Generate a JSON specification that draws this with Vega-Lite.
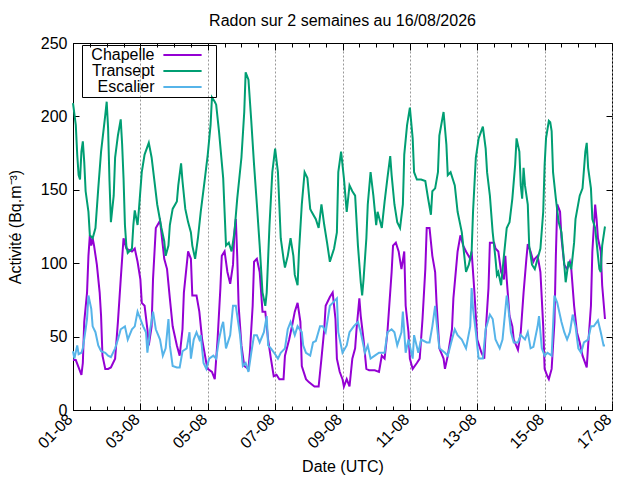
{
  "$schema": "https://vega.github.io/schema/vega-lite/v6.json",
  "width": 539,
  "height": 367,
  "autosize": "none",
  "padding": {"left": 73, "top": 43, "right": 28, "bottom": 70},
  "title": {"text": "Radon sur 2 semaines au 16/08/2026", "font": "Liberation Sans", "fontSize": 16, "fontWeight": "normal", "color": "black", "offset": 6},
  "config": {
    "view": {"stroke": "black", "strokeWidth": 1},
    "axis": {
      "labelFont": "Liberation Sans", "titleFont": "Liberation Sans",
      "labelFontSize": 16, "titleFontSize": 16, "titleFontWeight": "normal",
      "labelColor": "black", "titleColor": "black",
      "domainColor": "black", "tickColor": "black", "grid": false
    },
    "legend": {
      "title": null, "strokeColor": "black", "padding": 2,
      "symbolType": "M-2.73,0H2.73M3.8,0", "symbolSize": 196, "symbolStrokeWidth": 2,
      "symbolOffset": 90.5, "labelOffset": -36, "labelAlign": "right",
      "labelFont": "Liberation Sans", "labelFontSize": 16, "labelColor": "black", "rowPadding": 0
    }
  },
  "data": {"values": [
    {"s":"Chapelle","t":"2026-08-01T00:00","v":34},{"s":"Chapelle","t":"2026-08-01T02:00","v":34},{"s":"Chapelle","t":"2026-08-01T04:00","v":29},{"s":"Chapelle","t":"2026-08-01T06:00","v":24},{"s":"Chapelle","t":"2026-08-01T07:00","v":32},{"s":"Chapelle","t":"2026-08-01T08:00","v":60},{"s":"Chapelle","t":"2026-08-01T10:00","v":80},{"s":"Chapelle","t":"2026-08-01T11:00","v":105},{"s":"Chapelle","t":"2026-08-01T12:00","v":119},{"s":"Chapelle","t":"2026-08-01T13:00","v":112},{"s":"Chapelle","t":"2026-08-01T14:00","v":117},{"s":"Chapelle","t":"2026-08-01T15:00","v":112},{"s":"Chapelle","t":"2026-08-01T17:00","v":99},{"s":"Chapelle","t":"2026-08-01T19:00","v":80},{"s":"Chapelle","t":"2026-08-01T20:00","v":64},{"s":"Chapelle","t":"2026-08-01T21:00","v":37},{"s":"Chapelle","t":"2026-08-01T23:00","v":28},
    {"s":"Chapelle","t":"2026-08-02T01:00","v":28},{"s":"Chapelle","t":"2026-08-02T03:00","v":29},{"s":"Chapelle","t":"2026-08-02T06:00","v":35},{"s":"Chapelle","t":"2026-08-02T08:00","v":60},{"s":"Chapelle","t":"2026-08-02T10:00","v":89},{"s":"Chapelle","t":"2026-08-02T12:00","v":117},{"s":"Chapelle","t":"2026-08-02T14:00","v":110},{"s":"Chapelle","t":"2026-08-02T18:00","v":108},{"s":"Chapelle","t":"2026-08-02T20:00","v":110},{"s":"Chapelle","t":"2026-08-02T22:00","v":101},
    {"s":"Chapelle","t":"2026-08-03T00:00","v":89},{"s":"Chapelle","t":"2026-08-03T01:00","v":73},{"s":"Chapelle","t":"2026-08-03T03:00","v":71},{"s":"Chapelle","t":"2026-08-03T05:00","v":55},{"s":"Chapelle","t":"2026-08-03T06:00","v":44},{"s":"Chapelle","t":"2026-08-03T08:00","v":57},{"s":"Chapelle","t":"2026-08-03T09:00","v":89},{"s":"Chapelle","t":"2026-08-03T11:00","v":124},{"s":"Chapelle","t":"2026-08-03T14:00","v":129},{"s":"Chapelle","t":"2026-08-03T16:00","v":112},{"s":"Chapelle","t":"2026-08-03T17:00","v":103},{"s":"Chapelle","t":"2026-08-03T19:00","v":96},{"s":"Chapelle","t":"2026-08-03T21:00","v":76},{"s":"Chapelle","t":"2026-08-03T23:00","v":57},
    {"s":"Chapelle","t":"2026-08-04T02:00","v":44},{"s":"Chapelle","t":"2026-08-04T04:00","v":37},{"s":"Chapelle","t":"2026-08-04T06:00","v":55},{"s":"Chapelle","t":"2026-08-04T07:00","v":80},{"s":"Chapelle","t":"2026-08-04T10:00","v":108},{"s":"Chapelle","t":"2026-08-04T12:00","v":103},{"s":"Chapelle","t":"2026-08-04T13:00","v":78},{"s":"Chapelle","t":"2026-08-04T16:00","v":78},{"s":"Chapelle","t":"2026-08-04T18:00","v":67},{"s":"Chapelle","t":"2026-08-04T20:00","v":48},{"s":"Chapelle","t":"2026-08-04T23:00","v":32},
    {"s":"Chapelle","t":"2026-08-05T00:00","v":28},{"s":"Chapelle","t":"2026-08-05T03:00","v":26},{"s":"Chapelle","t":"2026-08-05T05:00","v":21},{"s":"Chapelle","t":"2026-08-05T07:00","v":48},{"s":"Chapelle","t":"2026-08-05T09:00","v":83},{"s":"Chapelle","t":"2026-08-05T10:00","v":105},{"s":"Chapelle","t":"2026-08-05T12:00","v":108},{"s":"Chapelle","t":"2026-08-05T14:00","v":94},{"s":"Chapelle","t":"2026-08-05T16:00","v":86},{"s":"Chapelle","t":"2026-08-05T18:00","v":99},{"s":"Chapelle","t":"2026-08-05T19:00","v":121},{"s":"Chapelle","t":"2026-08-05T20:00","v":130},{"s":"Chapelle","t":"2026-08-05T21:00","v":105},{"s":"Chapelle","t":"2026-08-05T22:00","v":71},
    {"s":"Chapelle","t":"2026-08-06T00:00","v":44},{"s":"Chapelle","t":"2026-08-06T02:00","v":30},{"s":"Chapelle","t":"2026-08-06T05:00","v":28},{"s":"Chapelle","t":"2026-08-06T06:00","v":39},{"s":"Chapelle","t":"2026-08-06T08:00","v":71},{"s":"Chapelle","t":"2026-08-06T09:00","v":101},{"s":"Chapelle","t":"2026-08-06T11:00","v":103},{"s":"Chapelle","t":"2026-08-06T13:00","v":94},{"s":"Chapelle","t":"2026-08-06T15:00","v":67},{"s":"Chapelle","t":"2026-08-06T17:00","v":67},{"s":"Chapelle","t":"2026-08-06T19:00","v":48},{"s":"Chapelle","t":"2026-08-06T21:00","v":35},{"s":"Chapelle","t":"2026-08-06T23:00","v":23},
    {"s":"Chapelle","t":"2026-08-07T01:00","v":24},{"s":"Chapelle","t":"2026-08-07T03:00","v":21},{"s":"Chapelle","t":"2026-08-07T06:00","v":21},{"s":"Chapelle","t":"2026-08-07T07:00","v":37},{"s":"Chapelle","t":"2026-08-07T10:00","v":48},{"s":"Chapelle","t":"2026-08-07T12:00","v":57},{"s":"Chapelle","t":"2026-08-07T14:00","v":67},{"s":"Chapelle","t":"2026-08-07T16:00","v":73},{"s":"Chapelle","t":"2026-08-07T18:00","v":60},{"s":"Chapelle","t":"2026-08-07T19:00","v":30},{"s":"Chapelle","t":"2026-08-07T22:00","v":21},
    {"s":"Chapelle","t":"2026-08-08T00:00","v":19},{"s":"Chapelle","t":"2026-08-08T04:00","v":16},{"s":"Chapelle","t":"2026-08-08T07:00","v":16},{"s":"Chapelle","t":"2026-08-08T09:00","v":35},{"s":"Chapelle","t":"2026-08-08T11:00","v":55},{"s":"Chapelle","t":"2026-08-08T12:00","v":71},{"s":"Chapelle","t":"2026-08-08T15:00","v":77},{"s":"Chapelle","t":"2026-08-08T17:00","v":80},{"s":"Chapelle","t":"2026-08-08T19:00","v":62},{"s":"Chapelle","t":"2026-08-08T20:00","v":35},{"s":"Chapelle","t":"2026-08-08T22:00","v":26},
    {"s":"Chapelle","t":"2026-08-09T00:00","v":21},{"s":"Chapelle","t":"2026-08-09T01:00","v":16},{"s":"Chapelle","t":"2026-08-09T03:00","v":21},{"s":"Chapelle","t":"2026-08-09T05:00","v":16},{"s":"Chapelle","t":"2026-08-09T07:00","v":35},{"s":"Chapelle","t":"2026-08-09T09:00","v":42},{"s":"Chapelle","t":"2026-08-09T10:00","v":55},{"s":"Chapelle","t":"2026-08-09T12:00","v":76},{"s":"Chapelle","t":"2026-08-09T13:00","v":64},{"s":"Chapelle","t":"2026-08-09T15:00","v":48},{"s":"Chapelle","t":"2026-08-09T17:00","v":28},{"s":"Chapelle","t":"2026-08-09T19:00","v":27},{"s":"Chapelle","t":"2026-08-09T23:00","v":27},
    {"s":"Chapelle","t":"2026-08-10T02:00","v":26},{"s":"Chapelle","t":"2026-08-10T04:00","v":37},{"s":"Chapelle","t":"2026-08-10T06:00","v":35},{"s":"Chapelle","t":"2026-08-10T08:00","v":53},{"s":"Chapelle","t":"2026-08-10T11:00","v":94},{"s":"Chapelle","t":"2026-08-10T12:00","v":112},{"s":"Chapelle","t":"2026-08-10T14:00","v":114},{"s":"Chapelle","t":"2026-08-10T16:00","v":108},{"s":"Chapelle","t":"2026-08-10T18:00","v":96},{"s":"Chapelle","t":"2026-08-10T20:00","v":108},{"s":"Chapelle","t":"2026-08-10T21:00","v":71},{"s":"Chapelle","t":"2026-08-10T23:00","v":53},
    {"s":"Chapelle","t":"2026-08-11T00:00","v":35},{"s":"Chapelle","t":"2026-08-11T02:00","v":28},{"s":"Chapelle","t":"2026-08-11T05:00","v":32},{"s":"Chapelle","t":"2026-08-11T07:00","v":35},{"s":"Chapelle","t":"2026-08-11T09:00","v":62},{"s":"Chapelle","t":"2026-08-11T11:00","v":96},{"s":"Chapelle","t":"2026-08-11T12:00","v":124},{"s":"Chapelle","t":"2026-08-11T14:00","v":124},{"s":"Chapelle","t":"2026-08-11T16:00","v":105},{"s":"Chapelle","t":"2026-08-11T18:00","v":94},{"s":"Chapelle","t":"2026-08-11T19:00","v":73},{"s":"Chapelle","t":"2026-08-11T21:00","v":42},
    {"s":"Chapelle","t":"2026-08-12T00:00","v":35},{"s":"Chapelle","t":"2026-08-12T01:00","v":28},{"s":"Chapelle","t":"2026-08-12T03:00","v":37},{"s":"Chapelle","t":"2026-08-12T06:00","v":55},{"s":"Chapelle","t":"2026-08-12T07:00","v":76},{"s":"Chapelle","t":"2026-08-12T10:00","v":108},{"s":"Chapelle","t":"2026-08-12T12:00","v":119},{"s":"Chapelle","t":"2026-08-12T14:00","v":112},{"s":"Chapelle","t":"2026-08-12T16:00","v":108},{"s":"Chapelle","t":"2026-08-12T19:00","v":103},{"s":"Chapelle","t":"2026-08-12T20:00","v":108},{"s":"Chapelle","t":"2026-08-12T22:00","v":80},
    {"s":"Chapelle","t":"2026-08-13T00:00","v":48},{"s":"Chapelle","t":"2026-08-13T03:00","v":39},{"s":"Chapelle","t":"2026-08-13T05:00","v":35},{"s":"Chapelle","t":"2026-08-13T06:00","v":53},{"s":"Chapelle","t":"2026-08-13T08:00","v":83},{"s":"Chapelle","t":"2026-08-13T09:00","v":114},{"s":"Chapelle","t":"2026-08-13T12:00","v":114},{"s":"Chapelle","t":"2026-08-13T13:00","v":110},{"s":"Chapelle","t":"2026-08-13T15:00","v":108},{"s":"Chapelle","t":"2026-08-13T17:00","v":94},{"s":"Chapelle","t":"2026-08-13T19:00","v":89},{"s":"Chapelle","t":"2026-08-13T20:00","v":105},{"s":"Chapelle","t":"2026-08-13T21:00","v":89},{"s":"Chapelle","t":"2026-08-13T23:00","v":64},
    {"s":"Chapelle","t":"2026-08-14T01:00","v":57},{"s":"Chapelle","t":"2026-08-14T02:00","v":48},{"s":"Chapelle","t":"2026-08-14T05:00","v":41},{"s":"Chapelle","t":"2026-08-14T07:00","v":53},{"s":"Chapelle","t":"2026-08-14T09:00","v":80},{"s":"Chapelle","t":"2026-08-14T11:00","v":103},{"s":"Chapelle","t":"2026-08-14T12:00","v":113},{"s":"Chapelle","t":"2026-08-14T14:00","v":108},{"s":"Chapelle","t":"2026-08-14T16:00","v":101},{"s":"Chapelle","t":"2026-08-14T17:00","v":103},{"s":"Chapelle","t":"2026-08-14T19:00","v":105},{"s":"Chapelle","t":"2026-08-14T21:00","v":94},{"s":"Chapelle","t":"2026-08-14T23:00","v":57},
    {"s":"Chapelle","t":"2026-08-15T00:00","v":28},{"s":"Chapelle","t":"2026-08-15T02:00","v":23},{"s":"Chapelle","t":"2026-08-15T03:00","v":21},{"s":"Chapelle","t":"2026-08-15T05:00","v":28},{"s":"Chapelle","t":"2026-08-15T07:00","v":60},{"s":"Chapelle","t":"2026-08-15T08:00","v":105},{"s":"Chapelle","t":"2026-08-15T09:00","v":140},{"s":"Chapelle","t":"2026-08-15T11:00","v":135},{"s":"Chapelle","t":"2026-08-15T12:00","v":117},{"s":"Chapelle","t":"2026-08-15T14:00","v":99},{"s":"Chapelle","t":"2026-08-15T16:00","v":96},{"s":"Chapelle","t":"2026-08-15T18:00","v":101},{"s":"Chapelle","t":"2026-08-15T19:00","v":96},{"s":"Chapelle","t":"2026-08-15T21:00","v":71},{"s":"Chapelle","t":"2026-08-15T23:00","v":53},
    {"s":"Chapelle","t":"2026-08-16T01:00","v":46},{"s":"Chapelle","t":"2026-08-16T03:00","v":37},{"s":"Chapelle","t":"2026-08-16T06:00","v":29},{"s":"Chapelle","t":"2026-08-16T07:00","v":44},{"s":"Chapelle","t":"2026-08-16T09:00","v":71},{"s":"Chapelle","t":"2026-08-16T10:00","v":108},{"s":"Chapelle","t":"2026-08-16T12:00","v":140},{"s":"Chapelle","t":"2026-08-16T13:00","v":130},{"s":"Chapelle","t":"2026-08-16T14:00","v":117},{"s":"Chapelle","t":"2026-08-16T16:00","v":108},{"s":"Chapelle","t":"2026-08-16T17:00","v":85},{"s":"Chapelle","t":"2026-08-16T19:00","v":62},

    {"s":"Transept","t":"2026-08-01T00:00","v":209},{"s":"Transept","t":"2026-08-01T02:00","v":194},{"s":"Transept","t":"2026-08-01T03:00","v":174},{"s":"Transept","t":"2026-08-01T04:00","v":160},{"s":"Transept","t":"2026-08-01T05:00","v":157},{"s":"Transept","t":"2026-08-01T06:00","v":176},{"s":"Transept","t":"2026-08-01T07:00","v":183},{"s":"Transept","t":"2026-08-01T08:00","v":169},{"s":"Transept","t":"2026-08-01T09:00","v":149},{"s":"Transept","t":"2026-08-01T11:00","v":135},{"s":"Transept","t":"2026-08-01T12:00","v":119},{"s":"Transept","t":"2026-08-01T14:00","v":117},{"s":"Transept","t":"2026-08-01T16:00","v":124},{"s":"Transept","t":"2026-08-01T18:00","v":151},{"s":"Transept","t":"2026-08-01T20:00","v":176},{"s":"Transept","t":"2026-08-01T23:00","v":201},
    {"s":"Transept","t":"2026-08-02T00:00","v":210},{"s":"Transept","t":"2026-08-02T01:00","v":192},{"s":"Transept","t":"2026-08-02T02:00","v":156},{"s":"Transept","t":"2026-08-02T03:00","v":128},{"s":"Transept","t":"2026-08-02T05:00","v":146},{"s":"Transept","t":"2026-08-02T06:00","v":172},{"s":"Transept","t":"2026-08-02T08:00","v":187},{"s":"Transept","t":"2026-08-02T10:00","v":198},{"s":"Transept","t":"2026-08-02T11:00","v":181},{"s":"Transept","t":"2026-08-02T12:00","v":158},{"s":"Transept","t":"2026-08-02T13:00","v":126},{"s":"Transept","t":"2026-08-02T14:00","v":112},{"s":"Transept","t":"2026-08-02T15:00","v":107},{"s":"Transept","t":"2026-08-02T18:00","v":110},{"s":"Transept","t":"2026-08-02T19:00","v":126},{"s":"Transept","t":"2026-08-02T20:00","v":136},{"s":"Transept","t":"2026-08-02T22:00","v":126},{"s":"Transept","t":"2026-08-02T23:00","v":137},
    {"s":"Transept","t":"2026-08-03T01:00","v":162},{"s":"Transept","t":"2026-08-03T03:00","v":174},{"s":"Transept","t":"2026-08-03T06:00","v":182},{"s":"Transept","t":"2026-08-03T08:00","v":172},{"s":"Transept","t":"2026-08-03T10:00","v":156},{"s":"Transept","t":"2026-08-03T12:00","v":140},{"s":"Transept","t":"2026-08-03T15:00","v":124},{"s":"Transept","t":"2026-08-03T17:00","v":115},{"s":"Transept","t":"2026-08-03T18:00","v":105},{"s":"Transept","t":"2026-08-03T20:00","v":112},{"s":"Transept","t":"2026-08-03T21:00","v":126},{"s":"Transept","t":"2026-08-03T23:00","v":137},
    {"s":"Transept","t":"2026-08-04T02:00","v":142},{"s":"Transept","t":"2026-08-04T03:00","v":153},{"s":"Transept","t":"2026-08-04T05:00","v":168},{"s":"Transept","t":"2026-08-04T06:00","v":156},{"s":"Transept","t":"2026-08-04T08:00","v":137},{"s":"Transept","t":"2026-08-04T10:00","v":128},{"s":"Transept","t":"2026-08-04T12:00","v":121},{"s":"Transept","t":"2026-08-04T13:00","v":112},{"s":"Transept","t":"2026-08-04T15:00","v":103},{"s":"Transept","t":"2026-08-04T17:00","v":117},{"s":"Transept","t":"2026-08-04T19:00","v":135},{"s":"Transept","t":"2026-08-04T22:00","v":158},
    {"s":"Transept","t":"2026-08-05T00:00","v":174},{"s":"Transept","t":"2026-08-05T02:00","v":194},{"s":"Transept","t":"2026-08-05T03:00","v":213},{"s":"Transept","t":"2026-08-05T05:00","v":210},{"s":"Transept","t":"2026-08-05T06:00","v":208},{"s":"Transept","t":"2026-08-05T08:00","v":190},{"s":"Transept","t":"2026-08-05T11:00","v":158},{"s":"Transept","t":"2026-08-05T12:00","v":135},{"s":"Transept","t":"2026-08-05T13:00","v":112},{"s":"Transept","t":"2026-08-05T15:00","v":114},{"s":"Transept","t":"2026-08-05T17:00","v":108},{"s":"Transept","t":"2026-08-05T19:00","v":121},{"s":"Transept","t":"2026-08-05T21:00","v":144},
    {"s":"Transept","t":"2026-08-06T00:00","v":172},{"s":"Transept","t":"2026-08-06T02:00","v":203},{"s":"Transept","t":"2026-08-06T03:00","v":230},{"s":"Transept","t":"2026-08-06T05:00","v":225},{"s":"Transept","t":"2026-08-06T07:00","v":197},{"s":"Transept","t":"2026-08-06T09:00","v":167},{"s":"Transept","t":"2026-08-06T11:00","v":140},{"s":"Transept","t":"2026-08-06T13:00","v":112},{"s":"Transept","t":"2026-08-06T15:00","v":80},{"s":"Transept","t":"2026-08-06T17:00","v":71},{"s":"Transept","t":"2026-08-06T18:00","v":80},{"s":"Transept","t":"2026-08-06T20:00","v":126},{"s":"Transept","t":"2026-08-06T22:00","v":162},
    {"s":"Transept","t":"2026-08-07T00:00","v":178},{"s":"Transept","t":"2026-08-07T02:00","v":162},{"s":"Transept","t":"2026-08-07T04:00","v":117},{"s":"Transept","t":"2026-08-07T06:00","v":103},{"s":"Transept","t":"2026-08-07T07:00","v":97},{"s":"Transept","t":"2026-08-07T09:00","v":105},{"s":"Transept","t":"2026-08-07T11:00","v":117},{"s":"Transept","t":"2026-08-07T13:00","v":105},{"s":"Transept","t":"2026-08-07T14:00","v":92},{"s":"Transept","t":"2026-08-07T16:00","v":85},{"s":"Transept","t":"2026-08-07T17:00","v":108},{"s":"Transept","t":"2026-08-07T19:00","v":140},{"s":"Transept","t":"2026-08-07T21:00","v":162},{"s":"Transept","t":"2026-08-07T23:00","v":158},
    {"s":"Transept","t":"2026-08-08T01:00","v":137},{"s":"Transept","t":"2026-08-08T02:00","v":135},{"s":"Transept","t":"2026-08-08T05:00","v":130},{"s":"Transept","t":"2026-08-08T07:00","v":124},{"s":"Transept","t":"2026-08-08T09:00","v":140},{"s":"Transept","t":"2026-08-08T11:00","v":126},{"s":"Transept","t":"2026-08-08T13:00","v":114},{"s":"Transept","t":"2026-08-08T15:00","v":101},{"s":"Transept","t":"2026-08-08T18:00","v":110},{"s":"Transept","t":"2026-08-08T20:00","v":121},{"s":"Transept","t":"2026-08-08T21:00","v":162},{"s":"Transept","t":"2026-08-08T23:00","v":176},
    {"s":"Transept","t":"2026-08-09T01:00","v":158},{"s":"Transept","t":"2026-08-09T03:00","v":135},{"s":"Transept","t":"2026-08-09T05:00","v":153},{"s":"Transept","t":"2026-08-09T07:00","v":149},{"s":"Transept","t":"2026-08-09T09:00","v":146},{"s":"Transept","t":"2026-08-09T11:00","v":112},{"s":"Transept","t":"2026-08-09T13:00","v":87},{"s":"Transept","t":"2026-08-09T14:00","v":78},{"s":"Transept","t":"2026-08-09T15:00","v":89},{"s":"Transept","t":"2026-08-09T17:00","v":117},{"s":"Transept","t":"2026-08-09T18:00","v":140},{"s":"Transept","t":"2026-08-09T20:00","v":162},{"s":"Transept","t":"2026-08-09T22:00","v":146},
    {"s":"Transept","t":"2026-08-10T00:00","v":126},{"s":"Transept","t":"2026-08-10T01:00","v":135},{"s":"Transept","t":"2026-08-10T04:00","v":124},{"s":"Transept","t":"2026-08-10T06:00","v":142},{"s":"Transept","t":"2026-08-10T08:00","v":158},{"s":"Transept","t":"2026-08-10T10:00","v":173},{"s":"Transept","t":"2026-08-10T11:00","v":160},{"s":"Transept","t":"2026-08-10T13:00","v":140},{"s":"Transept","t":"2026-08-10T15:00","v":128},{"s":"Transept","t":"2026-08-10T17:00","v":124},{"s":"Transept","t":"2026-08-10T19:00","v":140},{"s":"Transept","t":"2026-08-10T20:00","v":174},{"s":"Transept","t":"2026-08-10T22:00","v":194},
    {"s":"Transept","t":"2026-08-11T00:00","v":206},{"s":"Transept","t":"2026-08-11T02:00","v":185},{"s":"Transept","t":"2026-08-11T03:00","v":162},{"s":"Transept","t":"2026-08-11T05:00","v":157},{"s":"Transept","t":"2026-08-11T08:00","v":157},{"s":"Transept","t":"2026-08-11T11:00","v":156},{"s":"Transept","t":"2026-08-11T13:00","v":144},{"s":"Transept","t":"2026-08-11T15:00","v":133},{"s":"Transept","t":"2026-08-11T16:00","v":149},{"s":"Transept","t":"2026-08-11T18:00","v":151},{"s":"Transept","t":"2026-08-11T20:00","v":162},{"s":"Transept","t":"2026-08-11T21:00","v":187},
    {"s":"Transept","t":"2026-08-12T00:00","v":203},{"s":"Transept","t":"2026-08-12T02:00","v":181},{"s":"Transept","t":"2026-08-12T03:00","v":160},{"s":"Transept","t":"2026-08-12T05:00","v":162},{"s":"Transept","t":"2026-08-12T08:00","v":153},{"s":"Transept","t":"2026-08-12T10:00","v":135},{"s":"Transept","t":"2026-08-12T13:00","v":121},{"s":"Transept","t":"2026-08-12T14:00","v":112},{"s":"Transept","t":"2026-08-12T16:00","v":94},{"s":"Transept","t":"2026-08-12T18:00","v":99},{"s":"Transept","t":"2026-08-12T20:00","v":108},{"s":"Transept","t":"2026-08-12T21:00","v":135},{"s":"Transept","t":"2026-08-12T23:00","v":172},
    {"s":"Transept","t":"2026-08-13T01:00","v":185},{"s":"Transept","t":"2026-08-13T04:00","v":193},{"s":"Transept","t":"2026-08-13T06:00","v":178},{"s":"Transept","t":"2026-08-13T07:00","v":162},{"s":"Transept","t":"2026-08-13T09:00","v":146},{"s":"Transept","t":"2026-08-13T11:00","v":121},{"s":"Transept","t":"2026-08-13T13:00","v":103},{"s":"Transept","t":"2026-08-13T14:00","v":92},{"s":"Transept","t":"2026-08-13T15:00","v":94},{"s":"Transept","t":"2026-08-13T17:00","v":85},{"s":"Transept","t":"2026-08-13T19:00","v":105},{"s":"Transept","t":"2026-08-13T21:00","v":124},{"s":"Transept","t":"2026-08-13T23:00","v":128},
    {"s":"Transept","t":"2026-08-14T01:00","v":144},{"s":"Transept","t":"2026-08-14T03:00","v":167},{"s":"Transept","t":"2026-08-14T04:00","v":185},{"s":"Transept","t":"2026-08-14T06:00","v":176},{"s":"Transept","t":"2026-08-14T07:00","v":153},{"s":"Transept","t":"2026-08-14T08:00","v":144},{"s":"Transept","t":"2026-08-14T09:00","v":165},{"s":"Transept","t":"2026-08-14T10:00","v":153},{"s":"Transept","t":"2026-08-14T12:00","v":140},{"s":"Transept","t":"2026-08-14T13:00","v":112},{"s":"Transept","t":"2026-08-14T15:00","v":99},{"s":"Transept","t":"2026-08-14T17:00","v":96},{"s":"Transept","t":"2026-08-14T19:00","v":103},{"s":"Transept","t":"2026-08-14T21:00","v":110},{"s":"Transept","t":"2026-08-14T23:00","v":135},
    {"s":"Transept","t":"2026-08-15T00:00","v":167},{"s":"Transept","t":"2026-08-15T01:00","v":185},{"s":"Transept","t":"2026-08-15T03:00","v":197},{"s":"Transept","t":"2026-08-15T04:00","v":196},{"s":"Transept","t":"2026-08-15T05:00","v":190},{"s":"Transept","t":"2026-08-15T06:00","v":162},{"s":"Transept","t":"2026-08-15T08:00","v":144},{"s":"Transept","t":"2026-08-15T10:00","v":128},{"s":"Transept","t":"2026-08-15T12:00","v":121},{"s":"Transept","t":"2026-08-15T14:00","v":99},{"s":"Transept","t":"2026-08-15T15:00","v":87},{"s":"Transept","t":"2026-08-15T17:00","v":101},{"s":"Transept","t":"2026-08-15T19:00","v":96},{"s":"Transept","t":"2026-08-15T21:00","v":114},{"s":"Transept","t":"2026-08-15T22:00","v":130},
    {"s":"Transept","t":"2026-08-16T01:00","v":146},{"s":"Transept","t":"2026-08-16T03:00","v":151},{"s":"Transept","t":"2026-08-16T05:00","v":176},{"s":"Transept","t":"2026-08-16T06:00","v":182},{"s":"Transept","t":"2026-08-16T07:00","v":165},{"s":"Transept","t":"2026-08-16T09:00","v":151},{"s":"Transept","t":"2026-08-16T10:00","v":130},{"s":"Transept","t":"2026-08-16T12:00","v":124},{"s":"Transept","t":"2026-08-16T14:00","v":105},{"s":"Transept","t":"2026-08-16T15:00","v":96},{"s":"Transept","t":"2026-08-16T16:00","v":94},{"s":"Transept","t":"2026-08-16T17:00","v":112},{"s":"Transept","t":"2026-08-16T19:00","v":125},

    {"s":"Escalier","t":"2026-08-01T00:00","v":40},{"s":"Escalier","t":"2026-08-01T01:00","v":35},{"s":"Escalier","t":"2026-08-01T03:00","v":44},{"s":"Escalier","t":"2026-08-01T04:00","v":38},{"s":"Escalier","t":"2026-08-01T06:00","v":39},{"s":"Escalier","t":"2026-08-01T07:00","v":42},{"s":"Escalier","t":"2026-08-01T09:00","v":55},{"s":"Escalier","t":"2026-08-01T10:00","v":62},{"s":"Escalier","t":"2026-08-01T11:00","v":78},{"s":"Escalier","t":"2026-08-01T13:00","v":69},{"s":"Escalier","t":"2026-08-01T14:00","v":57},{"s":"Escalier","t":"2026-08-01T16:00","v":53},{"s":"Escalier","t":"2026-08-01T18:00","v":44},{"s":"Escalier","t":"2026-08-01T20:00","v":40},{"s":"Escalier","t":"2026-08-01T23:00","v":39},
    {"s":"Escalier","t":"2026-08-02T01:00","v":37},{"s":"Escalier","t":"2026-08-02T03:00","v":36},{"s":"Escalier","t":"2026-08-02T06:00","v":42},{"s":"Escalier","t":"2026-08-02T08:00","v":48},{"s":"Escalier","t":"2026-08-02T10:00","v":55},{"s":"Escalier","t":"2026-08-02T13:00","v":57},{"s":"Escalier","t":"2026-08-02T15:00","v":48},{"s":"Escalier","t":"2026-08-02T18:00","v":55},{"s":"Escalier","t":"2026-08-02T20:00","v":57},{"s":"Escalier","t":"2026-08-02T22:00","v":67},
    {"s":"Escalier","t":"2026-08-03T00:00","v":62},{"s":"Escalier","t":"2026-08-03T02:00","v":57},{"s":"Escalier","t":"2026-08-03T04:00","v":53},{"s":"Escalier","t":"2026-08-03T05:00","v":39},{"s":"Escalier","t":"2026-08-03T07:00","v":55},{"s":"Escalier","t":"2026-08-03T09:00","v":67},{"s":"Escalier","t":"2026-08-03T11:00","v":55},{"s":"Escalier","t":"2026-08-03T14:00","v":48},{"s":"Escalier","t":"2026-08-03T16:00","v":37},{"s":"Escalier","t":"2026-08-03T18:00","v":42},{"s":"Escalier","t":"2026-08-03T20:00","v":62},{"s":"Escalier","t":"2026-08-03T21:00","v":44},{"s":"Escalier","t":"2026-08-03T23:00","v":30},
    {"s":"Escalier","t":"2026-08-04T02:00","v":29},{"s":"Escalier","t":"2026-08-04T04:00","v":29},{"s":"Escalier","t":"2026-08-04T06:00","v":40},{"s":"Escalier","t":"2026-08-04T09:00","v":42},{"s":"Escalier","t":"2026-08-04T11:00","v":53},{"s":"Escalier","t":"2026-08-04T12:00","v":35},{"s":"Escalier","t":"2026-08-04T14:00","v":48},{"s":"Escalier","t":"2026-08-04T16:00","v":53},{"s":"Escalier","t":"2026-08-04T18:00","v":48},{"s":"Escalier","t":"2026-08-04T19:00","v":51},{"s":"Escalier","t":"2026-08-04T21:00","v":32},{"s":"Escalier","t":"2026-08-04T23:00","v":28},
    {"s":"Escalier","t":"2026-08-05T01:00","v":35},{"s":"Escalier","t":"2026-08-05T04:00","v":37},{"s":"Escalier","t":"2026-08-05T06:00","v":35},{"s":"Escalier","t":"2026-08-05T08:00","v":48},{"s":"Escalier","t":"2026-08-05T10:00","v":57},{"s":"Escalier","t":"2026-08-05T11:00","v":60},{"s":"Escalier","t":"2026-08-05T13:00","v":42},{"s":"Escalier","t":"2026-08-05T16:00","v":51},{"s":"Escalier","t":"2026-08-05T18:00","v":71},{"s":"Escalier","t":"2026-08-05T20:00","v":71},{"s":"Escalier","t":"2026-08-05T23:00","v":51},
    {"s":"Escalier","t":"2026-08-06T01:00","v":30},{"s":"Escalier","t":"2026-08-06T03:00","v":32},{"s":"Escalier","t":"2026-08-06T05:00","v":26},{"s":"Escalier","t":"2026-08-06T07:00","v":39},{"s":"Escalier","t":"2026-08-06T09:00","v":51},{"s":"Escalier","t":"2026-08-06T11:00","v":51},{"s":"Escalier","t":"2026-08-06T13:00","v":46},{"s":"Escalier","t":"2026-08-06T16:00","v":53},{"s":"Escalier","t":"2026-08-06T18:00","v":64},{"s":"Escalier","t":"2026-08-06T19:00","v":44},{"s":"Escalier","t":"2026-08-06T21:00","v":42},
    {"s":"Escalier","t":"2026-08-07T00:00","v":38},{"s":"Escalier","t":"2026-08-07T02:00","v":35},{"s":"Escalier","t":"2026-08-07T04:00","v":39},{"s":"Escalier","t":"2026-08-07T07:00","v":42},{"s":"Escalier","t":"2026-08-07T09:00","v":55},{"s":"Escalier","t":"2026-08-07T11:00","v":60},{"s":"Escalier","t":"2026-08-07T14:00","v":51},{"s":"Escalier","t":"2026-08-07T16:00","v":57},{"s":"Escalier","t":"2026-08-07T19:00","v":53},{"s":"Escalier","t":"2026-08-07T20:00","v":44},{"s":"Escalier","t":"2026-08-07T22:00","v":39},
    {"s":"Escalier","t":"2026-08-08T01:00","v":37},{"s":"Escalier","t":"2026-08-08T03:00","v":46},{"s":"Escalier","t":"2026-08-08T05:00","v":47},{"s":"Escalier","t":"2026-08-08T08:00","v":57},{"s":"Escalier","t":"2026-08-08T10:00","v":57},{"s":"Escalier","t":"2026-08-08T12:00","v":53},{"s":"Escalier","t":"2026-08-08T15:00","v":71},{"s":"Escalier","t":"2026-08-08T17:00","v":73},{"s":"Escalier","t":"2026-08-08T20:00","v":76},{"s":"Escalier","t":"2026-08-08T21:00","v":53},
    {"s":"Escalier","t":"2026-08-09T00:00","v":39},{"s":"Escalier","t":"2026-08-09T03:00","v":44},{"s":"Escalier","t":"2026-08-09T05:00","v":53},{"s":"Escalier","t":"2026-08-09T08:00","v":57},{"s":"Escalier","t":"2026-08-09T11:00","v":60},{"s":"Escalier","t":"2026-08-09T13:00","v":53},{"s":"Escalier","t":"2026-08-09T16:00","v":39},{"s":"Escalier","t":"2026-08-09T18:00","v":44},{"s":"Escalier","t":"2026-08-09T20:00","v":35},{"s":"Escalier","t":"2026-08-09T23:00","v":37},
    {"s":"Escalier","t":"2026-08-10T02:00","v":39},{"s":"Escalier","t":"2026-08-10T06:00","v":39},{"s":"Escalier","t":"2026-08-10T08:00","v":53},{"s":"Escalier","t":"2026-08-10T11:00","v":55},{"s":"Escalier","t":"2026-08-10T13:00","v":53},{"s":"Escalier","t":"2026-08-10T15:00","v":44},{"s":"Escalier","t":"2026-08-10T18:00","v":53},{"s":"Escalier","t":"2026-08-10T19:00","v":67},{"s":"Escalier","t":"2026-08-10T21:00","v":39},{"s":"Escalier","t":"2026-08-10T23:00","v":48},
    {"s":"Escalier","t":"2026-08-11T02:00","v":35},{"s":"Escalier","t":"2026-08-11T03:00","v":51},{"s":"Escalier","t":"2026-08-11T06:00","v":39},{"s":"Escalier","t":"2026-08-11T08:00","v":48},{"s":"Escalier","t":"2026-08-11T12:00","v":46},{"s":"Escalier","t":"2026-08-11T14:00","v":46},{"s":"Escalier","t":"2026-08-11T16:00","v":57},{"s":"Escalier","t":"2026-08-11T18:00","v":71},{"s":"Escalier","t":"2026-08-11T19:00","v":60},{"s":"Escalier","t":"2026-08-11T21:00","v":42},
    {"s":"Escalier","t":"2026-08-12T01:00","v":39},{"s":"Escalier","t":"2026-08-12T03:00","v":37},{"s":"Escalier","t":"2026-08-12T06:00","v":48},{"s":"Escalier","t":"2026-08-12T08:00","v":55},{"s":"Escalier","t":"2026-08-12T10:00","v":51},{"s":"Escalier","t":"2026-08-12T13:00","v":48},{"s":"Escalier","t":"2026-08-12T16:00","v":42},{"s":"Escalier","t":"2026-08-12T19:00","v":57},{"s":"Escalier","t":"2026-08-12T20:00","v":83},{"s":"Escalier","t":"2026-08-12T21:00","v":69},{"s":"Escalier","t":"2026-08-12T23:00","v":53},
    {"s":"Escalier","t":"2026-08-13T01:00","v":35},{"s":"Escalier","t":"2026-08-13T04:00","v":35},{"s":"Escalier","t":"2026-08-13T06:00","v":55},{"s":"Escalier","t":"2026-08-13T09:00","v":65},{"s":"Escalier","t":"2026-08-13T11:00","v":62},{"s":"Escalier","t":"2026-08-13T13:00","v":48},{"s":"Escalier","t":"2026-08-13T16:00","v":42},{"s":"Escalier","t":"2026-08-13T18:00","v":48},{"s":"Escalier","t":"2026-08-13T21:00","v":78},{"s":"Escalier","t":"2026-08-13T22:00","v":71},
    {"s":"Escalier","t":"2026-08-14T00:00","v":53},{"s":"Escalier","t":"2026-08-14T02:00","v":46},{"s":"Escalier","t":"2026-08-14T05:00","v":46},{"s":"Escalier","t":"2026-08-14T07:00","v":51},{"s":"Escalier","t":"2026-08-14T10:00","v":48},{"s":"Escalier","t":"2026-08-14T12:00","v":53},{"s":"Escalier","t":"2026-08-14T14:00","v":42},{"s":"Escalier","t":"2026-08-14T16:00","v":43},{"s":"Escalier","t":"2026-08-14T19:00","v":57},{"s":"Escalier","t":"2026-08-14T20:00","v":64},{"s":"Escalier","t":"2026-08-14T22:00","v":42},
    {"s":"Escalier","t":"2026-08-15T00:00","v":37},{"s":"Escalier","t":"2026-08-15T02:00","v":39},{"s":"Escalier","t":"2026-08-15T05:00","v":37},{"s":"Escalier","t":"2026-08-15T07:00","v":78},{"s":"Escalier","t":"2026-08-15T09:00","v":73},{"s":"Escalier","t":"2026-08-15T12:00","v":60},{"s":"Escalier","t":"2026-08-15T14:00","v":53},{"s":"Escalier","t":"2026-08-15T16:00","v":48},{"s":"Escalier","t":"2026-08-15T18:00","v":53},{"s":"Escalier","t":"2026-08-15T20:00","v":65},{"s":"Escalier","t":"2026-08-15T22:00","v":57},
    {"s":"Escalier","t":"2026-08-16T00:00","v":42},{"s":"Escalier","t":"2026-08-16T02:00","v":39},{"s":"Escalier","t":"2026-08-16T04:00","v":46},{"s":"Escalier","t":"2026-08-16T07:00","v":48},{"s":"Escalier","t":"2026-08-16T09:00","v":57},{"s":"Escalier","t":"2026-08-16T11:00","v":57},{"s":"Escalier","t":"2026-08-16T14:00","v":61},{"s":"Escalier","t":"2026-08-16T16:00","v":53},{"s":"Escalier","t":"2026-08-16T18:00","v":44},{"s":"Escalier","t":"2026-08-16T19:00","v":44}
  ]},
  "layer": [
    {
      "mark": {"type": "line", "opacity": 0},
      "encoding": {
        "x": {
          "field": "t", "type": "temporal",
          "scale": {"domain": ["2026-08-01T00:00", "2026-08-17T00:00"], "nice": false},
          "axis": {
            "title": null, "labels": false, "domain": false, "tickSize": -4,
            "values": ["2026-08-01T00:00", "2026-08-01T12:00", "2026-08-02T00:00", "2026-08-02T12:00", "2026-08-03T00:00", "2026-08-03T12:00", "2026-08-04T00:00", "2026-08-04T12:00", "2026-08-05T00:00", "2026-08-05T12:00", "2026-08-06T00:00", "2026-08-06T12:00", "2026-08-07T00:00", "2026-08-07T12:00", "2026-08-08T00:00", "2026-08-08T12:00", "2026-08-09T00:00", "2026-08-09T12:00", "2026-08-10T00:00", "2026-08-10T12:00", "2026-08-11T00:00", "2026-08-11T12:00", "2026-08-12T00:00", "2026-08-12T12:00", "2026-08-13T00:00", "2026-08-13T12:00", "2026-08-14T00:00", "2026-08-14T12:00", "2026-08-15T00:00", "2026-08-15T12:00", "2026-08-16T00:00", "2026-08-16T12:00", "2026-08-17T00:00"]
          }
        },
        "y": {
          "field": "v", "type": "quantitative",
          "scale": {"domain": [0, 250], "nice": false},
          "axis": {"orient": "right", "title": null, "labels": false, "domain": false, "values": [0, 50, 100, 150, 200, 250], "tickSize": -6}
        },
        "detail": {"field": "s"}
      }
    },
    {
      "mark": {"type": "line", "opacity": 0},
      "encoding": {
        "x": {
          "field": "t", "type": "temporal",
          "axis": {
            "orient": "top", "title": null, "labels": false, "domain": false, "tickSize": -4,
            "values": ["2026-08-01T00:00", "2026-08-01T12:00", "2026-08-02T00:00", "2026-08-02T12:00", "2026-08-03T00:00", "2026-08-03T12:00", "2026-08-04T00:00", "2026-08-04T12:00", "2026-08-05T00:00", "2026-08-05T12:00", "2026-08-06T00:00", "2026-08-06T12:00", "2026-08-07T00:00", "2026-08-07T12:00", "2026-08-08T00:00", "2026-08-08T12:00", "2026-08-09T00:00", "2026-08-09T12:00", "2026-08-10T00:00", "2026-08-10T12:00", "2026-08-11T00:00", "2026-08-11T12:00", "2026-08-12T00:00", "2026-08-12T12:00", "2026-08-13T00:00", "2026-08-13T12:00", "2026-08-14T00:00", "2026-08-14T12:00", "2026-08-15T00:00", "2026-08-15T12:00", "2026-08-16T00:00", "2026-08-16T12:00", "2026-08-17T00:00"]
          }
        },
        "y": {"field": "v", "type": "quantitative", "axis": null},
        "detail": {"field": "s"}
      }
    },
    {
      "mark": {"type": "line", "opacity": 0},
      "encoding": {
        "x": {
          "field": "t", "type": "temporal",
          "axis": {
            "orient": "top", "title": null, "labels": false, "domain": false, "tickSize": -7,
            "values": ["2026-08-01T00:00", "2026-08-03T00:00", "2026-08-05T00:00", "2026-08-07T00:00", "2026-08-09T00:00", "2026-08-11T00:00", "2026-08-13T00:00", "2026-08-15T00:00", "2026-08-17T00:00"]
          }
        },
        "y": {"field": "v", "type": "quantitative", "axis": null},
        "detail": {"field": "s"}
      }
    },
    {
      "mark": {"type": "line", "strokeWidth": 2},
      "encoding": {
        "x": {
          "field": "t", "type": "temporal",
          "axis": {
            "title": "Date (UTC)", "titleY": 64, "titleBaseline": "bottom",
            "values": ["2026-08-01T00:00", "2026-08-03T00:00", "2026-08-05T00:00", "2026-08-07T00:00", "2026-08-09T00:00", "2026-08-11T00:00", "2026-08-13T00:00", "2026-08-15T00:00", "2026-08-17T00:00"],
            "format": "%d-%m",
            "labelAngle": -45, "labelAlign": "right", "labelBaseline": "alphabetic",
            "labelPadding": 17, "labelOverlap": false, "labelFlush": false,
            "grid": true, "gridColor": "#999999", "gridDash": [2, 2],
            "tickSize": -7
          }
        },
        "y": {
          "field": "v", "type": "quantitative",
          "axis": {"title": "Activité (Bq.m⁻³)", "titleX": -50, "titleBaseline": "bottom", "values": [0, 50, 100, 150, 200, 250], "tickSize": -6, "labelPadding": 12}
        },
        "color": {
          "field": "s", "type": "nominal",
          "scale": {"domain": ["Chapelle", "Transept", "Escalier"], "range": ["#9400d3", "#009e73", "#56b4e9"]},
          "legend": {"orient": "none", "legendX": 9, "legendY": 2}
        }
      }
    }
  ],
  "resolve": {"axis": {"x": "independent", "y": "independent"}}
}
